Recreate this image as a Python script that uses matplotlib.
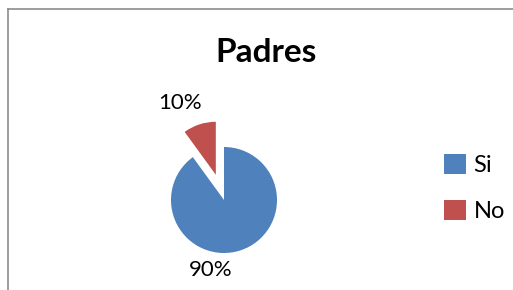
import matplotlib.pyplot as plt
from matplotlib.patches import Patch
from matplotlib.lines import Line2D

# Datos
categorias = ["Si", "No"]
valores = [90, 10]
colores = ["#4F81BD", "#C0504D"]
etiquetas = ["90%", "10%"]

plt.rcParams["font.family"] = ["Lato", "DejaVu Sans"]

W, H = 513, 290
fig = plt.figure(figsize=(W / 100, H / 100), dpi=100)

# borde del grafico (solo se ven el izquierdo y el superior)
fig.add_artist(Line2D([8 / W, 8 / W], [0, 1 - 9 / H], color="#8c8c8c", lw=1.2,
                      transform=fig.transFigure))
fig.add_artist(Line2D([8 / W, 1], [1 - 9 / H, 1 - 9 / H], color="#8c8c8c", lw=1.2,
                      transform=fig.transFigure))

# ejes del pastel: centro (224, 200) px, radio 53 px -> 2 unidades = 106 px
R = 53
cx, cy = 224, 200
ax = fig.add_axes([(cx - 2 * R) / W, (H - cy - 2 * R) / H, 4 * R / W, 4 * R / H])
wedges, _ = ax.pie(valores, colors=colores, startangle=90, counterclock=False,
                   explode=[0, 0.5], wedgeprops=dict(linewidth=0))
ax.set_xlim(-2, 2)
ax.set_ylim(-2, 2)
ax.set_aspect("equal")
ax.axis("off")

# etiquetas de porcentaje
ax.text(-0.25, -1.32, etiquetas[0], ha="center", va="center", fontsize=16)
ax.text(-0.83, 1.83, etiquetas[1], ha="center", va="center", fontsize=16)

fig.text(266 / W, 1 - 53 / H, "Padres", ha="center", va="center",
         fontsize=24, fontweight="bold")

handles = [Patch(facecolor=c, edgecolor="none") for c in colores]
fig.legend(handles, categorias, loc="center left", bbox_to_anchor=(444 / W, 1 - 188 / H),
           frameon=False, fontsize=17, handlelength=0.95, handleheight=0.95,
           handletextpad=0.3, labelspacing=1.0, borderpad=0, borderaxespad=0)

fig.savefig("out.png", dpi=100)
